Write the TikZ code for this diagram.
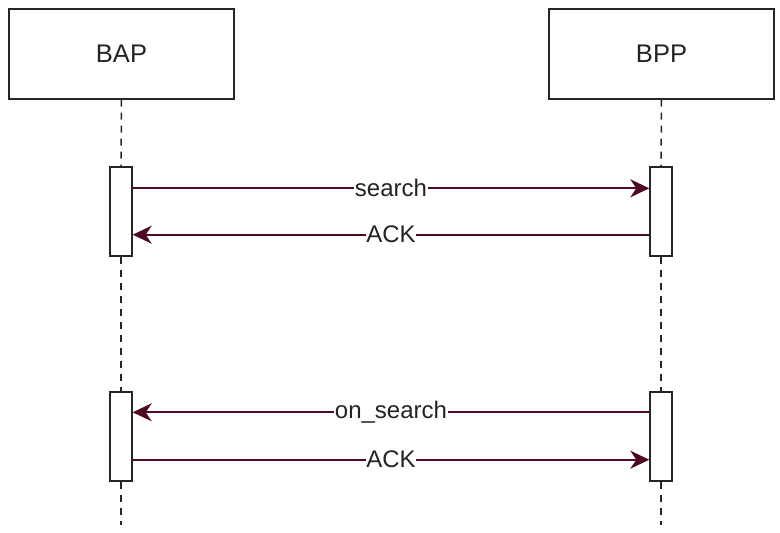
\documentclass[tikz,border=0pt]{standalone}
\usepackage{fontspec}
\setmainfont{Liberation Sans}
\usetikzlibrary{arrows.meta,calc}
\definecolor{msgcol}{RGB}{77,8,38}
\definecolor{txtcol}{RGB}{35,35,35}
\tikzset{
  actor/.style={draw=black!85, line width=1.4pt, fill=white, minimum width=225pt, minimum height=90pt, inner sep=0pt, text=txtcol, font=\fontsize{25.5}{30}\selectfont},
  actbox/.style={draw=black!85, line width=1.4pt, fill=white, minimum width=22pt, minimum height=89pt, inner sep=0pt},
  lifeline/.style={draw=black!85, line width=1.5pt, dash pattern=on 7pt off 6pt},
  msg/.style={draw=msgcol, line width=2pt, -{Stealth[length=19pt,width=18pt,inset=6pt]}},
  lbl/.style={fill=white, inner sep=0.5pt, text=txtcol, font=\fontsize{24}{28}\selectfont}
}
\begin{document}
\begin{tikzpicture}[x=1pt,y=-1pt]
\useasboundingbox (0,0) rectangle (780,533);
\node[actor] (bap) at (121.5,54) {BAP};
\node[actor] (bpp) at (661.5,54) {BPP};
\node[actbox] (a1) at (121,211.5) {};
\node[actbox] (b1) at (661,211.5) {};
\node[actbox] (a2) at (121,436.5) {};
\node[actbox] (b2) at (661,436.5) {};
\coordinate (aend) at (121,525);
\coordinate (bend) at (661,525);
\draw[lifeline] (bap.south) -- (a1.north);
\draw[lifeline] (a1.south) -- (a2.north);
\draw[lifeline] (a2.south) -- (aend);
\draw[lifeline] (bpp.south) -- (b1.north);
\draw[lifeline] (b1.south) -- (b2.north);
\draw[lifeline] (b2.south) -- (bend);
\draw[msg] ($(a1.north east)+(0,22)$) -- node[lbl] {search} ($(b1.north west)+(0,22)$);
\draw[msg] ($(b1.south west)+(0,-22)$) -- node[lbl] {ACK} ($(a1.south east)+(0,-22)$);
\draw[msg] ($(b2.north west)+(0,21)$) -- node[lbl] {on\_search} ($(a2.north east)+(0,21)$);
\draw[msg] ($(a2.south east)+(0,-22)$) -- node[lbl] {ACK} ($(b2.south west)+(0,-22)$);
\end{tikzpicture}
\end{document}
